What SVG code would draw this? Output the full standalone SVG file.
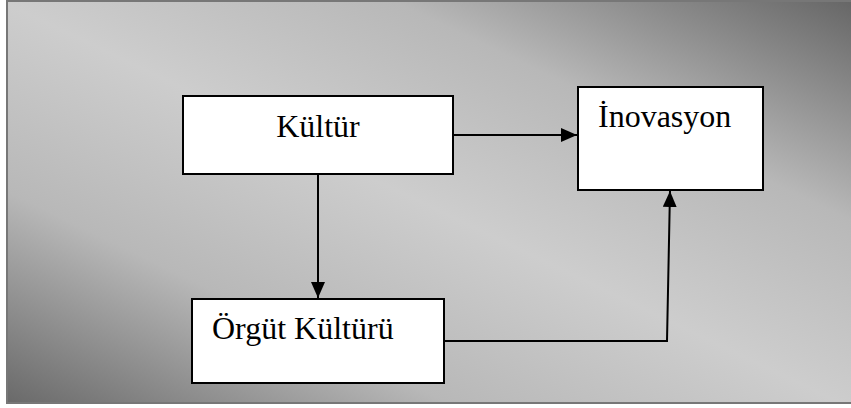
<svg xmlns="http://www.w3.org/2000/svg" width="851" height="408" viewBox="0 0 851 408">
  <defs>
    <linearGradient id="bg" gradientUnits="userSpaceOnUse" x1="266" y1="536" x2="584" y2="-128">
      <stop offset="0" stop-color="#666666"/>
      <stop offset="0.27" stop-color="#b8b8b8"/>
      <stop offset="0.5" stop-color="#cdcdcd"/>
      <stop offset="0.73" stop-color="#b8b8b8"/>
      <stop offset="1" stop-color="#666666"/>
    </linearGradient>
    <marker id="arrow" markerUnits="userSpaceOnUse" markerWidth="16" markerHeight="14" refX="16" refY="7" orient="auto">
      <path d="M0,0 L16,7 L0,14 Z" fill="#000"/>
    </marker>
  </defs>
  <style>
    .box { fill: #ffffff; stroke: #000000; stroke-width: 2; }
    .label { font-family: "Liberation Serif", "Times New Roman", serif; font-size: 32px; fill: #000000; }
    .conn { fill: none; stroke: #000000; stroke-width: 2; marker-end: url(#arrow); }
  </style>
  <rect x="7" y="1" width="850" height="402" fill="url(#bg)" stroke="#777777" stroke-width="2"/>
  <g id="connectors">
    <path class="conn" d="M453,135 L577,135"/>
    <path class="conn" d="M318,174 L318,298"/>
    <path class="conn" d="M444,341 L667,341 L670,191"/>
  </g>
  <g id="node-kultur">
    <rect class="box" x="183" y="96" width="270" height="78"/>
    <text class="label" x="318" y="137" text-anchor="middle">Kültür</text>
  </g>
  <g id="node-inovasyon">
    <rect class="box" x="578" y="87" width="185" height="103"/>
    <text class="label" x="598" y="127">İnovasyon</text>
  </g>
  <g id="node-orgut-kulturu">
    <rect class="box" x="192" y="299" width="252" height="84"/>
    <text class="label" x="212" y="339">Örgüt Kültürü</text>
  </g>
</svg>
